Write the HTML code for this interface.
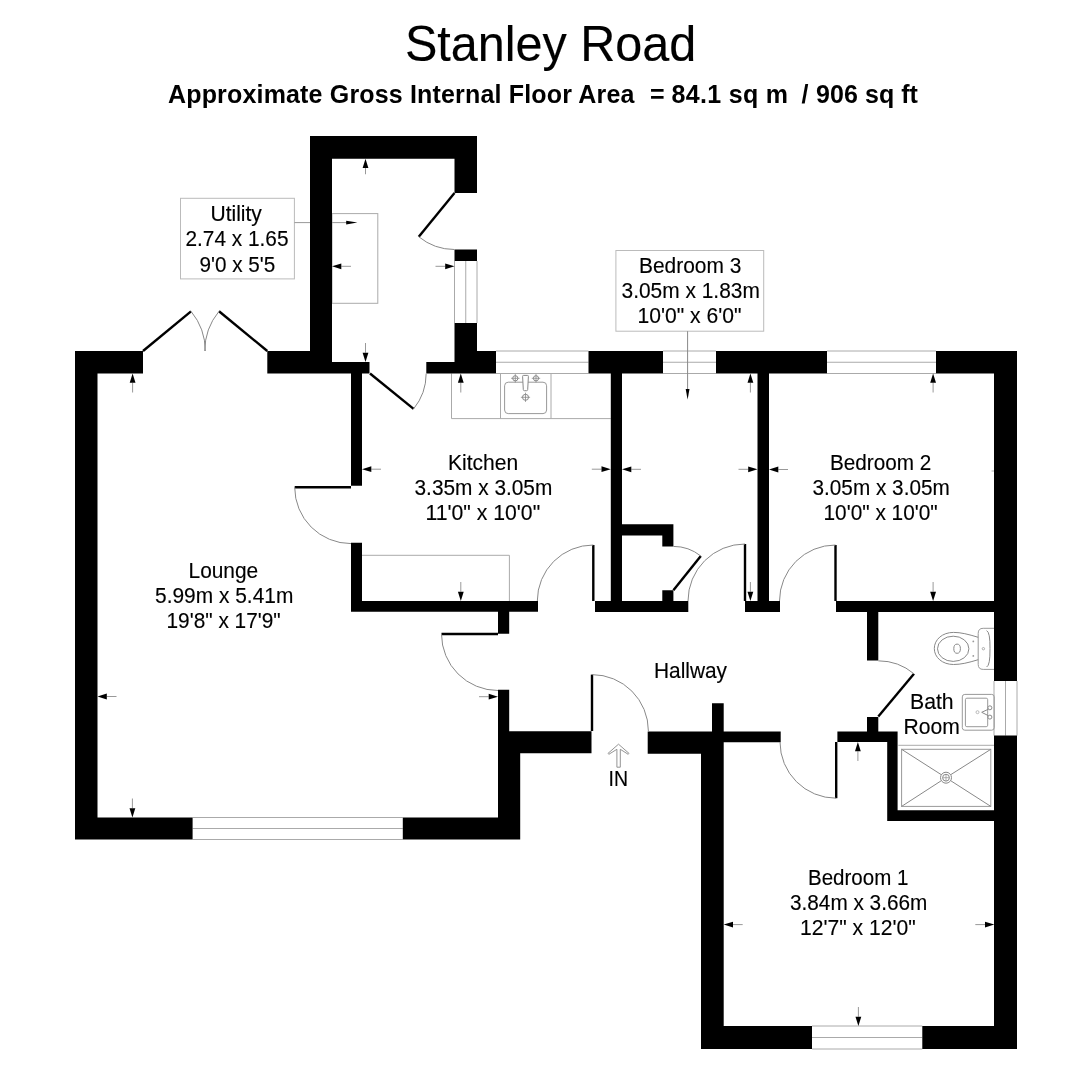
<!DOCTYPE html>
<html><head><meta charset="utf-8"><style>
html,body{margin:0;padding:0;background:#fff;}
body{width:1086px;height:1080px;overflow:hidden;position:relative;font-family:"Liberation Sans",sans-serif;}
svg{position:absolute;left:0;top:0;will-change:transform;}
svg text{font-family:"Liberation Sans",sans-serif;fill:#000;stroke:#000;stroke-width:0.15px;}
</style></head><body>
<svg width="1086" height="1080" viewBox="0 0 1086 1080">
<line x1="454.50" y1="261.00" x2="454.50" y2="323.00" stroke="#aaa" stroke-width="1"/>
<line x1="465.75" y1="261.00" x2="465.75" y2="323.00" stroke="#aaa" stroke-width="1"/>
<line x1="477.00" y1="261.00" x2="477.00" y2="323.00" stroke="#aaa" stroke-width="1"/>
<line x1="192.60" y1="817.50" x2="402.80" y2="817.50" stroke="#aaa" stroke-width="1"/>
<line x1="192.60" y1="828.50" x2="402.80" y2="828.50" stroke="#aaa" stroke-width="1"/>
<line x1="192.60" y1="839.50" x2="402.80" y2="839.50" stroke="#aaa" stroke-width="1"/>
<line x1="496.00" y1="351.00" x2="588.50" y2="351.00" stroke="#aaa" stroke-width="1"/>
<line x1="496.00" y1="362.25" x2="588.50" y2="362.25" stroke="#aaa" stroke-width="1"/>
<line x1="496.00" y1="373.50" x2="588.50" y2="373.50" stroke="#aaa" stroke-width="1"/>
<line x1="663.00" y1="351.00" x2="716.00" y2="351.00" stroke="#aaa" stroke-width="1"/>
<line x1="663.00" y1="362.25" x2="716.00" y2="362.25" stroke="#aaa" stroke-width="1"/>
<line x1="663.00" y1="373.50" x2="716.00" y2="373.50" stroke="#aaa" stroke-width="1"/>
<line x1="827.00" y1="351.00" x2="936.00" y2="351.00" stroke="#aaa" stroke-width="1"/>
<line x1="827.00" y1="362.25" x2="936.00" y2="362.25" stroke="#aaa" stroke-width="1"/>
<line x1="827.00" y1="373.50" x2="936.00" y2="373.50" stroke="#aaa" stroke-width="1"/>
<line x1="994.00" y1="681.00" x2="994.00" y2="735.60" stroke="#aaa" stroke-width="1"/>
<line x1="1005.50" y1="681.00" x2="1005.50" y2="735.60" stroke="#aaa" stroke-width="1"/>
<line x1="1017.00" y1="681.00" x2="1017.00" y2="735.60" stroke="#aaa" stroke-width="1"/>
<line x1="812.00" y1="1026.00" x2="922.30" y2="1026.00" stroke="#aaa" stroke-width="1"/>
<line x1="812.00" y1="1037.50" x2="922.30" y2="1037.50" stroke="#aaa" stroke-width="1"/>
<line x1="812.00" y1="1049.00" x2="922.30" y2="1049.00" stroke="#aaa" stroke-width="1"/>
<rect x="332.00" y="213.60" width="45.80" height="89.70" rx="0" fill="none" stroke="#aaa" stroke-width="1"/>
<line x1="451.50" y1="373.50" x2="451.50" y2="418.60" stroke="#aaa" stroke-width="1"/>
<line x1="451.50" y1="418.60" x2="610.80" y2="418.60" stroke="#aaa" stroke-width="1"/>
<line x1="500.50" y1="373.50" x2="500.50" y2="418.60" stroke="#aaa" stroke-width="1"/>
<line x1="551.00" y1="373.50" x2="551.00" y2="418.60" stroke="#aaa" stroke-width="1"/>
<rect x="504.60" y="382.20" width="42.00" height="31.40" rx="3.6" fill="none" stroke="#999" stroke-width="1"/>
<circle cx="515.3" cy="378.3" r="2.6" fill="none" stroke="#888" stroke-width="1"/>
<line x1="511.10" y1="378.30" x2="519.50" y2="378.30" stroke="#888" stroke-width="0.8"/>
<line x1="515.30" y1="374.10" x2="515.30" y2="382.50" stroke="#888" stroke-width="0.8"/>
<circle cx="536" cy="378.3" r="2.6" fill="none" stroke="#888" stroke-width="1"/>
<line x1="531.80" y1="378.30" x2="540.20" y2="378.30" stroke="#888" stroke-width="0.8"/>
<line x1="536.00" y1="374.10" x2="536.00" y2="382.50" stroke="#888" stroke-width="0.8"/>
<circle cx="525.5" cy="397.3" r="3" fill="none" stroke="#888" stroke-width="1"/>
<line x1="520.90" y1="397.30" x2="530.10" y2="397.30" stroke="#888" stroke-width="0.8"/>
<line x1="525.50" y1="392.70" x2="525.50" y2="401.90" stroke="#888" stroke-width="0.8"/>
<path d="M522.6,376.5 Q522.4,375.4 523.6,375.4 L527.4,375.4 Q528.6,375.4 528.4,376.5 L527.7,389.6 Q527.6,390.7 526.6,390.7 L524.4,390.7 Q523.4,390.7 523.3,389.6 Z" fill="#fff" stroke="#888" stroke-width="1"/>
<path d="M994,628.3 L983.2,628.3 Q978.2,628.3 978.2,633.3 L978.2,664.4 Q978.2,669.4 983.2,669.4 L994,669.4" fill="none" stroke="#999" stroke-width="1"/>
<path d="M986.6,630.6 Q990.2,632 990,648.7 Q990.2,665.6 986.6,667" fill="none" stroke="#888" stroke-width="1"/>
<circle cx="983.4" cy="648.7" r="1.2" fill="none" stroke="#999" stroke-width="0.8"/>
<path d="M978.2,637.3 C968,634.2 961,632.4 953.5,632.4 C942.5,632.4 934.3,639.5 934.3,648.5 C934.3,657.5 942.5,664.5 953.5,664.5 C961,664.5 968,662.8 978.2,659.7" fill="none" stroke="#888" stroke-width="1"/>
<ellipse cx="953.2" cy="648.8" rx="15.7" ry="12.6" fill="none" stroke="#888" stroke-width="1"/>
<ellipse cx="957.1" cy="648.7" rx="3.3" ry="4.6" fill="none" stroke="#888" stroke-width="1"/>
<circle cx="973.3" cy="641.4" r="0.9" fill="#999"/><circle cx="973.3" cy="655.9" r="0.9" fill="#999"/>
<rect x="962.30" y="694.40" width="31.90" height="35.80" rx="2.5" fill="none" stroke="#999" stroke-width="1"/>
<rect x="965.40" y="698.20" width="22.30" height="28.50" rx="1.5" fill="none" stroke="#999" stroke-width="1"/>
<circle cx="989.9" cy="707.8" r="2" fill="#fff" stroke="#888" stroke-width="1"/><circle cx="989.9" cy="717.1" r="2" fill="#fff" stroke="#888" stroke-width="1"/>
<path d="M988.2,709.3 L981.7,712.3 L988.2,715.6" fill="none" stroke="#888" stroke-width="1"/>
<circle cx="977.5" cy="712.2" r="1.5" fill="none" stroke="#aaa" stroke-width="0.8"/>
<line x1="898.30" y1="745.30" x2="994.00" y2="745.30" stroke="#aaa" stroke-width="1"/>
<rect x="901.60" y="749.30" width="89.20" height="57.10" rx="0" fill="none" stroke="#999" stroke-width="1"/>
<line x1="901.60" y1="749.30" x2="941.00" y2="774.50" stroke="#888" stroke-width="1"/>
<line x1="951.00" y1="780.90" x2="990.80" y2="806.40" stroke="#888" stroke-width="1"/>
<line x1="990.80" y1="749.30" x2="951.00" y2="774.50" stroke="#888" stroke-width="1"/>
<line x1="941.00" y1="780.90" x2="901.60" y2="806.40" stroke="#888" stroke-width="1"/>
<circle cx="946" cy="777.7" r="5.5" fill="none" stroke="#888" stroke-width="1"/><circle cx="946" cy="777.7" r="3.4" fill="none" stroke="#888" stroke-width="1"/>
<line x1="942.60" y1="777.70" x2="949.40" y2="777.70" stroke="#999" stroke-width="0.8"/>
<line x1="946.00" y1="774.30" x2="946.00" y2="781.10" stroke="#999" stroke-width="0.8"/>
<path d="M618.5,744.2 L629,753.4 L628.2,754.3 L620.3,749.3 L620.3,767.2 L616.9,767.2 L616.9,749.3 L608.8,754.3 L608,753.4 Z" fill="none" stroke="#888" stroke-width="0.9"/>
<line x1="362.00" y1="555.30" x2="509.40" y2="555.30" stroke="#aaa" stroke-width="1"/>
<line x1="509.40" y1="555.30" x2="509.40" y2="601.00" stroke="#aaa" stroke-width="1"/>
<path fill="#000" d="M310.00,136.00H332.00V373.50H310.00ZM310.00,136.00H477.00V158.75H310.00ZM454.50,136.00H477.00V193.00H454.50ZM454.50,249.50H477.00V261.00H454.50ZM454.50,323.00H477.00V373.50H454.50ZM332.00,362.00H369.50V373.50H332.00ZM426.30,362.00H454.50V373.50H426.30ZM477.00,351.00H496.00V373.50H477.00ZM75.00,351.00H143.00V373.50H75.00ZM75.00,351.00H97.50V839.50H75.00ZM267.30,351.00H310.00V373.50H267.30ZM75.00,817.50H192.60V839.50H75.00ZM402.80,817.50H520.20V839.50H402.80ZM498.00,731.20H520.20V839.50H498.00ZM498.00,689.80H509.20V731.20H498.00ZM498.00,731.20H591.50V753.30H498.00ZM498.00,611.70H509.20V633.70H498.00ZM351.00,373.50H362.00V485.80H351.00ZM351.00,542.80H362.00V611.70H351.00ZM351.00,601.00H538.00V611.70H351.00ZM595.00,601.00H688.30V612.00H595.00ZM610.80,373.50H622.00V601.00H610.80ZM588.50,351.00H663.00V373.50H588.50ZM716.00,351.00H827.00V373.50H716.00ZM757.50,373.50H769.00V601.00H757.50ZM622.00,524.30H673.40V535.60H622.00ZM662.30,524.30H673.40V546.50H662.30ZM662.30,590.30H673.40V601.00H662.30ZM745.00,601.00H780.00V612.00H745.00ZM936.00,351.00H1017.00V373.50H936.00ZM994.00,351.00H1017.00V681.00H994.00ZM836.00,601.00H994.00V612.00H836.00ZM867.00,612.00H878.30V660.50H867.00ZM867.00,717.00H878.30V731.50H867.00ZM837.40,731.50H897.60V742.00H837.40ZM887.20,731.50H897.60V821.00H887.20ZM887.20,810.30H994.00V821.00H887.20ZM994.00,735.60H1017.00V1049.00H994.00ZM647.70,731.50H701.00V753.70H647.70ZM712.00,703.30H723.70V731.50H712.00ZM701.00,731.50H780.70V742.30H701.00ZM701.00,731.50H723.70V1049.00H701.00ZM701.00,1026.00H812.00V1049.00H701.00ZM922.30,1026.00H1017.00V1049.00H922.30Z"/>
<line x1="143.00" y1="351.00" x2="191.00" y2="311.30" stroke="#000" stroke-width="2.4"/>
<path d="M191.00,311.30 A62.29,62.29 0 0 1 205.29,351.00" fill="none" stroke="#888" stroke-width="1"/>
<line x1="267.30" y1="351.00" x2="219.00" y2="311.30" stroke="#000" stroke-width="2.4"/>
<path d="M219.00,311.30 A62.52,62.52 0 0 0 204.78,351.00" fill="none" stroke="#888" stroke-width="1"/>
<line x1="454.50" y1="193.00" x2="418.75" y2="236.75" stroke="#000" stroke-width="2.4"/>
<path d="M418.75,236.75 A56.50,56.50 0 0 0 454.50,249.50" fill="none" stroke="#888" stroke-width="1"/>
<line x1="370.00" y1="373.50" x2="413.60" y2="408.90" stroke="#000" stroke-width="2.4"/>
<path d="M413.60,408.90 A56.16,56.16 0 0 0 426.16,373.50" fill="none" stroke="#888" stroke-width="1"/>
<line x1="351.00" y1="487.30" x2="294.70" y2="487.30" stroke="#000" stroke-width="2.4"/>
<path d="M294.70,487.30 A56.30,56.30 0 0 0 351.00,543.60" fill="none" stroke="#888" stroke-width="1"/>
<line x1="593.30" y1="601.00" x2="593.30" y2="545.00" stroke="#000" stroke-width="2.4"/>
<path d="M593.30,545.00 A56.00,56.00 0 0 0 537.30,601.00" fill="none" stroke="#888" stroke-width="1"/>
<line x1="498.00" y1="634.00" x2="441.50" y2="634.00" stroke="#000" stroke-width="2.4"/>
<path d="M441.50,634.00 A56.50,56.50 0 0 0 498.00,690.50" fill="none" stroke="#888" stroke-width="1"/>
<line x1="592.00" y1="731.00" x2="592.00" y2="674.60" stroke="#000" stroke-width="2.4"/>
<path d="M592.00,674.60 A56.40,56.40 0 0 1 648.40,731.00" fill="none" stroke="#888" stroke-width="1"/>
<line x1="673.40" y1="590.30" x2="700.80" y2="556.00" stroke="#000" stroke-width="2.4"/>
<path d="M700.80,556.00 A43.90,43.90 0 0 0 673.40,546.40" fill="none" stroke="#888" stroke-width="1"/>
<line x1="745.00" y1="601.00" x2="745.00" y2="544.00" stroke="#000" stroke-width="2.4"/>
<path d="M745.00,544.00 A57.00,57.00 0 0 0 688.00,601.00" fill="none" stroke="#888" stroke-width="1"/>
<line x1="835.50" y1="601.00" x2="835.50" y2="545.00" stroke="#000" stroke-width="2.4"/>
<path d="M835.50,545.00 A56.00,56.00 0 0 0 779.50,601.00" fill="none" stroke="#888" stroke-width="1"/>
<line x1="878.30" y1="716.40" x2="914.00" y2="673.80" stroke="#000" stroke-width="2.4"/>
<path d="M914.00,673.80 A55.58,55.58 0 0 0 878.30,660.82" fill="none" stroke="#888" stroke-width="1"/>
<line x1="836.20" y1="742.00" x2="836.20" y2="798.20" stroke="#000" stroke-width="2.4"/>
<path d="M836.20,798.20 A56.20,56.20 0 0 1 780.00,742.00" fill="none" stroke="#888" stroke-width="1"/>
<line x1="365.50" y1="174.25" x2="365.50" y2="168.05" stroke="#999" stroke-width="1"/>
<polygon points="365.50,158.75 368.40,168.05 362.60,168.05" fill="#000"/>
<line x1="365.50" y1="343.00" x2="365.50" y2="352.70" stroke="#999" stroke-width="1"/>
<polygon points="365.50,362.00 362.60,352.70 368.40,352.70" fill="#000"/>
<line x1="351.00" y1="266.30" x2="341.30" y2="266.30" stroke="#999" stroke-width="1"/>
<polygon points="332.00,266.30 341.30,263.40 341.30,269.20" fill="#000"/>
<line x1="435.50" y1="266.30" x2="445.20" y2="266.30" stroke="#999" stroke-width="1"/>
<polygon points="454.50,266.30 445.20,269.20 445.20,263.40" fill="#000"/>
<line x1="132.60" y1="392.50" x2="132.60" y2="382.80" stroke="#999" stroke-width="1"/>
<polygon points="132.60,373.50 135.50,382.80 129.70,382.80" fill="#000"/>
<line x1="116.50" y1="696.50" x2="106.80" y2="696.50" stroke="#999" stroke-width="1"/>
<polygon points="97.50,696.50 106.80,693.60 106.80,699.40" fill="#000"/>
<line x1="132.40" y1="798.50" x2="132.40" y2="808.20" stroke="#999" stroke-width="1"/>
<polygon points="132.40,817.50 129.50,808.20 135.30,808.20" fill="#000"/>
<line x1="479.00" y1="696.70" x2="488.70" y2="696.70" stroke="#999" stroke-width="1"/>
<polygon points="498.00,696.70 488.70,699.60 488.70,693.80" fill="#000"/>
<line x1="381.00" y1="469.20" x2="371.30" y2="469.20" stroke="#999" stroke-width="1"/>
<polygon points="362.00,469.20 371.30,466.30 371.30,472.10" fill="#000"/>
<line x1="591.80" y1="469.20" x2="601.50" y2="469.20" stroke="#999" stroke-width="1"/>
<polygon points="610.80,469.20 601.50,472.10 601.50,466.30" fill="#000"/>
<line x1="460.80" y1="392.50" x2="460.80" y2="382.80" stroke="#999" stroke-width="1"/>
<polygon points="460.80,373.50 463.70,382.80 457.90,382.80" fill="#000"/>
<line x1="460.80" y1="582.00" x2="460.80" y2="591.70" stroke="#999" stroke-width="1"/>
<polygon points="460.80,601.00 457.90,591.70 463.70,591.70" fill="#000"/>
<line x1="641.00" y1="469.30" x2="631.30" y2="469.30" stroke="#999" stroke-width="1"/>
<polygon points="622.00,469.30 631.30,466.40 631.30,472.20" fill="#000"/>
<line x1="738.50" y1="469.30" x2="748.20" y2="469.30" stroke="#999" stroke-width="1"/>
<polygon points="757.50,469.30 748.20,472.20 748.20,466.40" fill="#000"/>
<line x1="750.40" y1="392.50" x2="750.40" y2="382.80" stroke="#999" stroke-width="1"/>
<polygon points="750.40,373.50 753.30,382.80 747.50,382.80" fill="#000"/>
<line x1="750.40" y1="582.00" x2="750.40" y2="591.70" stroke="#999" stroke-width="1"/>
<polygon points="750.40,601.00 747.50,591.70 753.30,591.70" fill="#000"/>
<line x1="788.00" y1="469.50" x2="778.30" y2="469.50" stroke="#999" stroke-width="1"/>
<polygon points="769.00,469.50 778.30,466.60 778.30,472.40" fill="#000"/>
<line x1="991.50" y1="471.00" x2="994.00" y2="471.00" stroke="#bbb" stroke-width="1.2"/>
<line x1="933.10" y1="392.50" x2="933.10" y2="382.80" stroke="#999" stroke-width="1"/>
<polygon points="933.10,373.50 936.00,382.80 930.20,382.80" fill="#000"/>
<line x1="933.10" y1="582.00" x2="933.10" y2="591.70" stroke="#999" stroke-width="1"/>
<polygon points="933.10,601.00 930.20,591.70 936.00,591.70" fill="#000"/>
<line x1="742.70" y1="924.60" x2="733.00" y2="924.60" stroke="#999" stroke-width="1"/>
<polygon points="723.70,924.60 733.00,921.70 733.00,927.50" fill="#000"/>
<line x1="975.30" y1="924.60" x2="985.00" y2="924.60" stroke="#999" stroke-width="1"/>
<polygon points="994.30,924.60 985.00,927.50 985.00,921.70" fill="#000"/>
<line x1="858.40" y1="1007.00" x2="858.40" y2="1016.70" stroke="#999" stroke-width="1"/>
<polygon points="858.40,1026.00 855.50,1016.70 861.30,1016.70" fill="#000"/>
<line x1="857.90" y1="761.00" x2="857.90" y2="751.30" stroke="#999" stroke-width="1"/>
<polygon points="857.90,742.00 860.80,751.30 855.00,751.30" fill="#000"/>
<rect x="180.50" y="198.30" width="113.90" height="80.60" rx="0" fill="none" stroke="#bbb" stroke-width="1"/>
<line x1="294.40" y1="222.60" x2="310.00" y2="222.60" stroke="#999" stroke-width="1"/>
<line x1="332.00" y1="222.60" x2="347.00" y2="222.60" stroke="#999" stroke-width="1"/>
<polygon points="357.4,222.6 346.2,220.8 346.2,224.4" fill="#000"/>
<rect x="615.90" y="250.50" width="147.80" height="80.70" rx="0" fill="none" stroke="#bbb" stroke-width="1"/>
<line x1="687.60" y1="331.20" x2="687.60" y2="390.00" stroke="#888" stroke-width="1"/>
<polygon points="687.6,399.6 685.7,388.9 689.5,388.9" fill="#000"/>
<text x="210.50" y="221.40" font-size="21.8" font-weight="normal" textLength="51.38" lengthAdjust="spacingAndGlyphs" xml:space="preserve">Utility</text>
<text x="185.50" y="246.40" font-size="21.8" font-weight="normal" textLength="103.00" lengthAdjust="spacingAndGlyphs" xml:space="preserve">2.74 x 1.65</text>
<text x="199.50" y="271.60" font-size="21.8" font-weight="normal" textLength="75.75" lengthAdjust="spacingAndGlyphs" xml:space="preserve">9'0 x 5'5</text>
<text x="639.00" y="273.40" font-size="21.8" font-weight="normal" textLength="102.34" lengthAdjust="spacingAndGlyphs" xml:space="preserve">Bedroom 3</text>
<text x="621.50" y="298.30" font-size="21.8" font-weight="normal" textLength="138.31" lengthAdjust="spacingAndGlyphs" xml:space="preserve">3.05m x 1.83m</text>
<text x="637.50" y="323.40" font-size="21.8" font-weight="normal" textLength="104.06" lengthAdjust="spacingAndGlyphs" xml:space="preserve">10'0&quot; x 6'0&quot;</text>
<text x="448.00" y="469.70" font-size="21.8" font-weight="normal" textLength="70.22" lengthAdjust="spacingAndGlyphs" xml:space="preserve">Kitchen</text>
<text x="414.50" y="495.10" font-size="21.8" font-weight="normal" textLength="137.81" lengthAdjust="spacingAndGlyphs" xml:space="preserve">3.35m x 3.05m</text>
<text x="425.50" y="519.60" font-size="21.8" font-weight="normal" textLength="114.70" lengthAdjust="spacingAndGlyphs" xml:space="preserve">11'0&quot; x 10'0&quot;</text>
<text x="188.50" y="578.10" font-size="21.8" font-weight="normal" textLength="69.75" lengthAdjust="spacingAndGlyphs" xml:space="preserve">Lounge</text>
<text x="155.00" y="602.70" font-size="21.8" font-weight="normal" textLength="138.31" lengthAdjust="spacingAndGlyphs" xml:space="preserve">5.99m x 5.41m</text>
<text x="166.50" y="627.50" font-size="21.8" font-weight="normal" textLength="114.19" lengthAdjust="spacingAndGlyphs" xml:space="preserve">19'8&quot; x 17'9&quot;</text>
<text x="830.00" y="469.80" font-size="21.8" font-weight="normal" textLength="101.34" lengthAdjust="spacingAndGlyphs" xml:space="preserve">Bedroom 2</text>
<text x="812.50" y="495.10" font-size="21.8" font-weight="normal" textLength="137.31" lengthAdjust="spacingAndGlyphs" xml:space="preserve">3.05m x 3.05m</text>
<text x="823.50" y="519.80" font-size="21.8" font-weight="normal" textLength="114.19" lengthAdjust="spacingAndGlyphs" xml:space="preserve">10'0&quot; x 10'0&quot;</text>
<text x="654.00" y="677.60" font-size="21.8" font-weight="normal" textLength="73.00" lengthAdjust="spacingAndGlyphs" xml:space="preserve">Hallway</text>
<text x="910.00" y="709.40" font-size="21.8" font-weight="normal" textLength="43.66" lengthAdjust="spacingAndGlyphs" xml:space="preserve">Bath</text>
<text x="903.50" y="734.30" font-size="21.8" font-weight="normal" textLength="56.34" lengthAdjust="spacingAndGlyphs" xml:space="preserve">Room</text>
<text x="808.00" y="885.10" font-size="21.8" font-weight="normal" textLength="100.34" lengthAdjust="spacingAndGlyphs" xml:space="preserve">Bedroom 1</text>
<text x="790.00" y="910.10" font-size="21.8" font-weight="normal" textLength="137.31" lengthAdjust="spacingAndGlyphs" xml:space="preserve">3.84m x 3.66m</text>
<text x="800.00" y="935.20" font-size="21.8" font-weight="normal" textLength="115.69" lengthAdjust="spacingAndGlyphs" xml:space="preserve">12'7&quot; x 12'0&quot;</text>
<text x="608.50" y="785.70" font-size="21.8" font-weight="normal" textLength="19.50" lengthAdjust="spacingAndGlyphs" xml:space="preserve">IN</text>
<text x="405.00" y="60.60" font-size="50" font-weight="normal" textLength="291.27" lengthAdjust="spacingAndGlyphs" style="stroke-width:0.15px" xml:space="preserve">Stanley Road</text>
<text x="168.00" y="102.60" font-size="25" font-weight="bold" textLength="466.36" lengthAdjust="spacing" style="stroke-width:0" xml:space="preserve">Approximate Gross Internal Floor Area</text>
<text x="650.00" y="102.60" font-size="25" font-weight="bold" textLength="14.59" lengthAdjust="spacing" style="stroke-width:0" xml:space="preserve">=</text>
<text x="671.50" y="102.60" font-size="25" font-weight="bold" textLength="116.48" lengthAdjust="spacing" style="stroke-width:0" xml:space="preserve">84.1 sq m</text>
<text x="801.50" y="102.60" font-size="25" font-weight="bold" textLength="11.45" lengthAdjust="spacing" style="stroke-width:0" xml:space="preserve">/</text>
<text x="816.00" y="102.60" font-size="25" font-weight="bold" textLength="101.95" lengthAdjust="spacing" style="stroke-width:0" xml:space="preserve">906 sq ft</text>
</svg>
</body></html>
